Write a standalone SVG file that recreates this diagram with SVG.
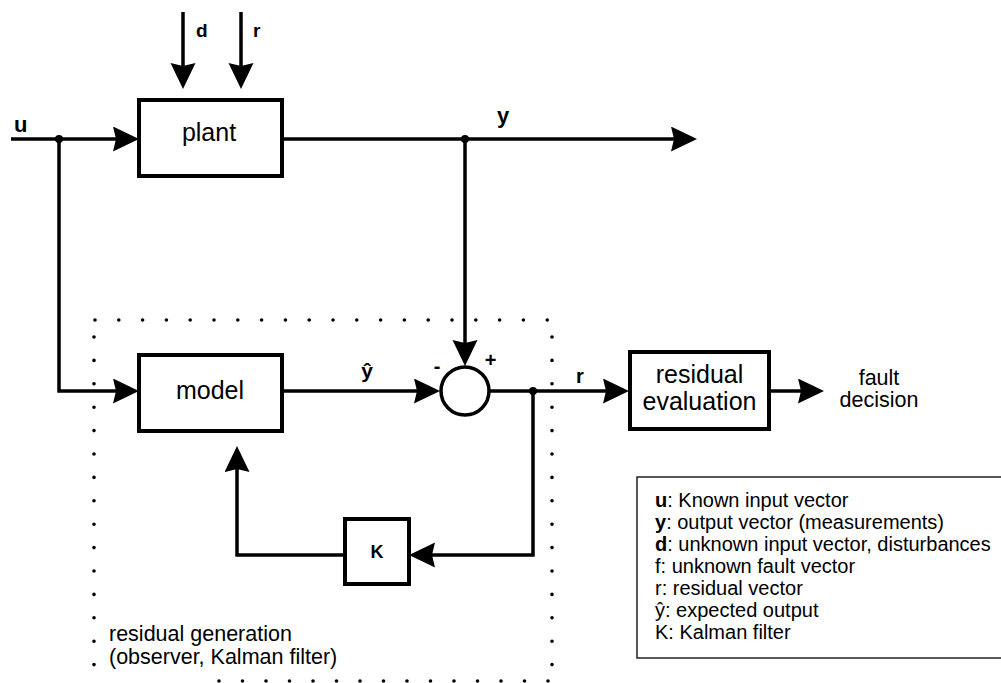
<svg xmlns="http://www.w3.org/2000/svg" width="1001" height="683" viewBox="0 0 1001 683">
<style>
text{font-family:"Liberation Sans",Arial,sans-serif;fill:#000}
.box{fill:#fff;stroke:#000;stroke-width:4}
.ln{fill:none;stroke:#000;stroke-width:3.5}
.arr{marker-end:url(#ah)}
.dot{fill:none;stroke:#000;stroke-width:3.6;stroke-linecap:round}
.lbl{font-size:25px;text-anchor:middle}
.b{font-weight:bold}
.leg{font-size:20px}
</style>
<defs>
<marker id="ah" markerUnits="userSpaceOnUse" markerWidth="27" markerHeight="26" refX="18" refY="12.5" orient="auto">
<path d="M0,0 L26,12.5 L0,25 L3,12.5 Z" fill="#000"/>
</marker>
</defs>
<rect width="1001" height="683" fill="#fff"/>

<g id="residual-generation-frame">
<path class="dot" d="M95,320 H548" stroke-dasharray="0 23.8"/>
<path class="dot" d="M94,337 V665" stroke-dasharray="0 23.4"/>
<path class="dot" d="M552,337 V665" stroke-dasharray="0 23.4"/>
<path class="dot" d="M219,681 H549" stroke-dasharray="0 23.5"/>
<text x="109" y="641" style="font-size:21.5px">residual generation</text>
<text x="109" y="664" style="font-size:21.5px">(observer, Kalman filter)</text>
</g>

<g id="connectors">
<path class="ln arr" d="M11,139 H131"/>
<path class="ln arr" d="M183,12 V81"/>
<path class="ln arr" d="M241,12 V81"/>
<path class="ln arr" d="M59,139 V391 H131"/>
<path class="ln arr" d="M282,139 H689"/>
<path class="ln arr" d="M465,139 V358"/>
<path class="ln arr" d="M282,391 H432"/>
<path class="ln arr" d="M489,391 H621"/>
<path class="ln arr" d="M769,391 H816"/>
<path class="ln arr" d="M533,391 V555 H417"/>
<path class="ln arr" d="M345,555 H237 V454"/>
<circle cx="59" cy="139" r="4" fill="#000"/>
<circle cx="465" cy="139" r="4" fill="#000"/>
<circle cx="533" cy="391" r="4" fill="#000"/>
<text x="14" y="132" class="b" style="font-size:22px">u</text>
<text x="196" y="37" class="b" style="font-size:19px">d</text>
<text x="253" y="37" class="b" style="font-size:19px">r</text>
<text x="497" y="123" class="b" style="font-size:22px">y</text>
<text x="367" y="378" class="b" style="font-size:21px;text-anchor:middle">ŷ</text>
<text x="580" y="383" class="b" style="font-size:20px;text-anchor:middle">r</text>
<text x="879" y="385" style="font-size:21.5px;text-anchor:middle">fault</text>
<text x="879" y="407" style="font-size:21.5px;text-anchor:middle">decision</text>
</g>

<g id="plant">
<rect class="box" x="139" y="100" width="143" height="76"/>
<text class="lbl" x="209" y="141">plant</text>
</g>

<g id="model">
<rect class="box" x="139" y="355" width="143" height="76"/>
<text class="lbl" x="210" y="399">model</text>
</g>

<g id="sum">
<circle cx="465" cy="391" r="24" fill="#fff" stroke="#000" stroke-width="3.5"/>
<text x="437" y="373" class="b" style="font-size:20px;text-anchor:middle">-</text>
<text x="490.5" y="367" class="b" style="font-size:20px;text-anchor:middle">+</text>
</g>

<g id="residual-evaluation">
<rect class="box" x="630" y="352" width="139" height="77"/>
<text class="lbl" x="699.5" y="383">residual</text>
<text class="lbl" x="699.5" y="410">evaluation</text>
</g>

<g id="K">
<rect class="box" x="345" y="519" width="64" height="65"/>
<text x="377" y="558" class="b" style="font-size:18px;text-anchor:middle">K</text>
</g>

<g id="legend">
<rect x="637" y="477" width="370" height="181" fill="#fff" stroke="#222" stroke-width="1.5"/>
<text class="leg" x="655" y="507"><tspan class="b">u</tspan>: Known input vector</text>
<text class="leg" x="655" y="529"><tspan class="b">y</tspan>: output vector (measurements)</text>
<text class="leg" x="655" y="551"><tspan class="b">d</tspan>: unknown input vector, disturbances</text>
<text class="leg" x="655" y="573">f: unknown fault vector</text>
<text class="leg" x="655" y="595">r: residual vector</text>
<text class="leg" x="655" y="617">ŷ: expected output</text>
<text class="leg" x="655" y="639">K: Kalman filter</text>
</g>
</svg>
